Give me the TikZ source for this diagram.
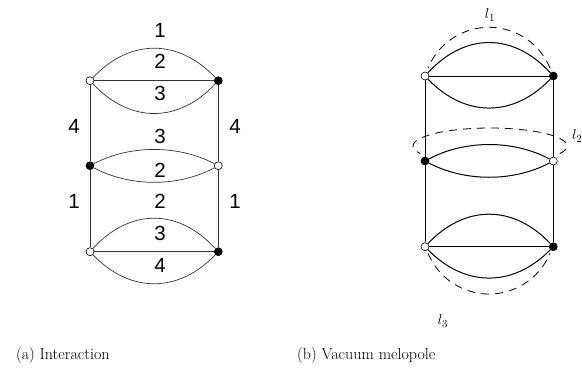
\documentclass[tikz,border=0pt]{standalone}
\usepackage{fontspec}
\newfontfamily\labfont{Liberation Sans}
\begin{document}
\begin{tikzpicture}[x=1bp,y=-1bp,
  wv/.style={circle,draw,fill=white,inner sep=0pt,minimum size=8bp,line width=0.6bp},
  bv/.style={circle,draw,fill=black,inner sep=0pt,minimum size=8bp,line width=0.6bp},
  ledge/.style={line width=0.7bp,black!80},
  redge/.style={line width=1bp,black},
  dsh/.style={line width=0.8bp,dash pattern=on 8bp off 6bp},
  num/.style={font=\labfont\fontsize{20.5bp}{22bp}\selectfont,inner sep=0pt},
  ml/.style={font=\fontsize{15bp}{17bp}\selectfont,inner sep=0pt},
  captext/.style={font=\fontsize{16bp}{19bp}\selectfont,inner sep=0pt,anchor=west}]
\useasboundingbox (0,0) rectangle (582,376);
% ---- left diagram
\node[wv] (a1) at (90,80.7) {};
\node[bv] (a2) at (218.3,80.7) {};
\node[bv] (a3) at (90,165.7) {};
\node[wv] (a4) at (218.3,165.7) {};
\node[wv] (a5) at (90,251.7) {};
\node[bv] (a6) at (218.3,251.7) {};
\draw[ledge] (a1) .. controls +(40,-42.3) and +(-40,-42.3) .. (a2);
\draw[ledge] (a1) -- (a2);
\draw[ledge] (a1) .. controls +(40,42.7) and +(-40,42.7) .. (a2);
\draw[ledge] (a3) .. controls +(40,-21) and +(-40,-21) .. (a4);
\draw[ledge] (a3) .. controls +(40,21.5) and +(-40,21.5) .. (a4);
\draw[ledge] (a5) .. controls +(40,-43.6) and +(-40,-43.6) .. (a6);
\draw[ledge] (a5) -- (a6);
\draw[ledge] (a5) .. controls +(40,41.7) and +(-40,41.7) .. (a6);
\draw[ledge] (a1) -- (a3);
\draw[ledge] (a3) -- (a5);
\draw[ledge] (a2) -- (a4);
\draw[ledge] (a4) -- (a6);
\node[num] (n1) at (160,30) {1};
\node[num] (n2) at (160,61.7) {2};
\node[num] (n3) at (160,93) {3};
\node[num] (n4) at (74,126.7) {4};
\node[num] (n5) at (235,126.7) {4};
\node[num] (n6) at (160,136.7) {3};
\node[num] (n7) at (160,170) {2};
\node[num] (n8) at (74,201.7) {1};
\node[num] (n9) at (160,201.7) {2};
\node[num] (n10) at (235,201.7) {1};
\node[num] (n11) at (160,233) {3};
\node[num] (n12) at (160,265) {4};
% ---- right diagram
\node[wv] (b1) at (425,76) {};
\node[bv] (b2) at (553.3,76) {};
\node[bv] (b3) at (425,161) {};
\node[wv] (b4) at (553.3,161) {};
\node[wv] (b5) at (425,246.7) {};
\node[bv] (b6) at (553.3,246.7) {};
\draw[redge] (b1) .. controls +(40,-43.6) and +(-40,-43.6) .. (b2);
\draw[redge] (b1) -- (b2);
\draw[redge] (b1) .. controls +(40,41.7) and +(-40,41.7) .. (b2);
\draw[redge] (b3) .. controls +(40,-21.3) and +(-40,-21.3) .. (b4);
\draw[redge] (b3) .. controls +(40,21) and +(-40,21) .. (b4);
\draw[redge] (b5) .. controls +(40,-42.3) and +(-40,-42.3) .. (b6);
\draw[redge] (b5) -- (b6);
\draw[redge] (b5) .. controls +(40,40.8) and +(-40,40.8) .. (b6);
\draw[redge] (b1) -- (b3);
\draw[redge] (b3) -- (b5);
\draw[redge] (b2) -- (b4);
\draw[redge] (b4) -- (b6);
\coordinate (c1) at (489,93.3);
\coordinate (c2) at (490,146);
\coordinate (c3) at (489,228);
\draw[dsh] (c1) ++(22.5:66bp) arc[start angle=22.5,end angle=157.5,radius=66bp];
\draw[dsh] (c3) ++(-157.5:66bp) arc[start angle=-157.5,end angle=-22.5,radius=66bp];
\draw[dsh] (c2) ++(-25:77bp and 18bp) arc[start angle=-25,end angle=205,x radius=77bp,y radius=18bp];
\node[ml] (l1) at (490,15) {$l_1$};
\node[ml,anchor=west] (l2) at (572,136) {$l_2$};
\node[ml] (l3) at (443,321) {$l_3$};
% ---- captions
\node[captext] (ca) at (16,355) {(a) Interaction};
\node[captext] (cb) at (297,355) {(b) Vacuum melopole};
\end{tikzpicture}
\end{document}
